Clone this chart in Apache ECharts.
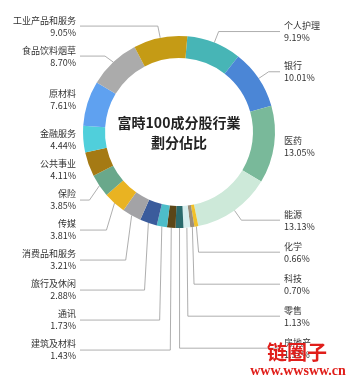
<!DOCTYPE html>
<html><head><meta charset="utf-8">
<script src="https://cdn.jsdelivr.net/npm/echarts@6/dist/echarts.min.js"></script>
<style>html,body{margin:0;padding:0;background:#fff}#c{width:358px;height:380px}</style>
</head><body><div id="c"></div>
<script>
// ---- data ----
const categories = ['个人护理','银行','医药','能源','化学','科技','零售','房地产','建筑及材料','通讯','旅行及休闲','消费品和服务','传媒','保险','公共事业','金融服务','原材料','食品饮料烟草','工业产品和服务'];
const shares = [9.19,10.01,13.05,13.13,0.66,0.70,1.13,1.31,1.43,1.73,2.88,3.21,3.81,3.85,4.11,4.44,7.61,8.70,9.05];
const titleLines = ['富時100成分股行業','劃分佔比'];
const watermarkLines = ['链圈子','www.wwsww.cn'];

// ---- styles ----
const palette = ['#47b5b6','#4b86d6','#79b99a','#cde9d9','#f1c12a','#9b8e7c','#d6eeee','#2a6b6d','#5b4617','#4dbdc9','#3b5c9c','#a3a3a6','#e9b322','#69a88b','#a57a14','#50cfdb','#5fa1f0','#ababab','#c59b15'];
const FONT = "'Noto Sans CJK SC','Noto Sans',sans-serif";
const CX = 179, START_ANGLE = 85, LEFT_END = 80, RIGHT_END = 280, GAP = 4;

// which half of the ring each slice's middle falls on (for label spacing)
const total = shares.reduce((a, b) => a + b, 0);
let acc = 0;
const onRight = shares.map(v => {
  const mid = (acc + v / 2) / total;
  acc += v;
  return mid + (90 - START_ANGLE) / 360 < 0.5;
});

const chart = echarts.init(document.getElementById('c'), null, {renderer:'canvas'});
chart.setOption({
  animation: false,
  color: palette,
  title: {
    text: titleLines.join('\n'),
    left: 'center', top: 113, padding: 0,
    textStyle: {fontSize: 14, fontWeight: 'bold', lineHeight: 20, color: '#222', fontFamily: FONT}
  },
  series: [{
    type: 'pie',
    center: [CX, 132],
    radius: [74, 96],
    startAngle: START_ANGLE,
    clockwise: true,
    avoidLabelOverlap: true,
    data: categories.map((n, i) => ({
      name: n, value: shares[i],
      label: {padding: onRight[i] ? [3, 0, 3, 0] : [2, 0, 2, 0]}
    })),
    label: {
      show: true, position: 'outside', alignTo: 'edge', edgeDistance: 0,
      distanceToLabelLine: GAP,
      fontSize: 9, lineHeight: 12, color: '#333', fontFamily: FONT,
      formatter: p => p.name + '\n' + p.value.toFixed(2) + '%'
    },
    labelLine: {show: true, length: 12, length2: 5, lineStyle: {color: '#999', width: 0.8}},
    labelLayout: function (p) {
      const pts = p.labelLinePoints;
      if (!pts) return {};
      const isLeft = pts[2][0] < CX;
      const y = p.labelRect.y + p.labelRect.height / 2;
      const endX = isLeft ? LEFT_END : RIGHT_END;
      const clamped = isLeft ? pts[1][0] < endX : pts[1][0] > endX;
      const line = clamped
        ? [pts[0], pts[0], pts[0]]
        : [pts[0], [pts[1][0], y], [endX, y]];
      return {
        x: isLeft ? endX - GAP : endX + GAP,
        y: y,
        align: isLeft ? 'right' : 'left',
        verticalAlign: 'middle',
        labelLinePoints: line
      };
    }
  }],
  graphic: [
    {type: 'text', x: 297, y: 352, z: 100,
     style: {text: watermarkLines[0], font: "bold 20px 'Noto Sans CJK SC'", fill: '#e01e1a', align: 'center', verticalAlign: 'middle'}},
    {type: 'text', x: 298, y: 371, z: 100,
     style: {text: watermarkLines[1], font: "bold 14px 'Liberation Serif'", fill: '#e01e1a', align: 'center', verticalAlign: 'middle'}}
  ]
});
</script></body></html>
